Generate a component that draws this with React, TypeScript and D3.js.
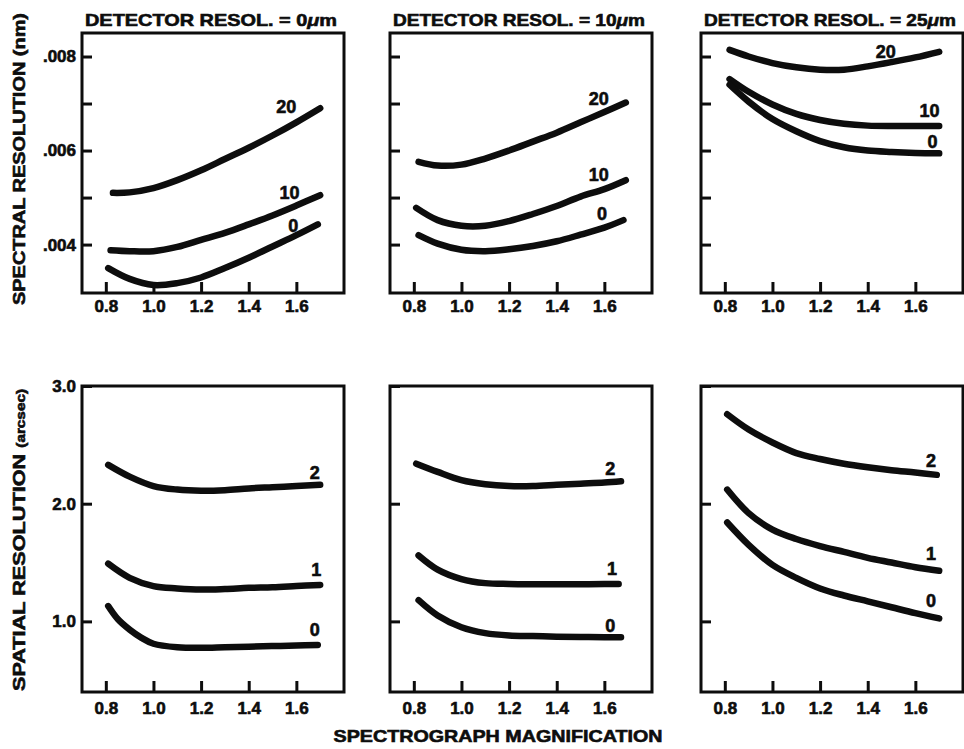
import React, { useEffect, useRef } from 'react';
import * as d3 from 'd3';

type Pt = [number, number];

const detectorResol = ['0', '10', '25'];
const magTicks = [0.8, 1.0, 1.2, 1.4, 1.6];
const spectralTicks = [0.004, 0.005, 0.006, 0.007, 0.008];
const spectralLabelled = [0.004, 0.006, 0.008];
const spatialTicks = [1.0, 2.0, 3.0];
const spectralCurveNames = ['20', '10', '0'];
const spatialCurveNames = ['2', '1', '0'];

// spectral resolution (nm) vs magnification, detector resol. = 0um
const spec0_20: Pt[] = [[0.83, 0.0051], [0.9, 0.00511], [1.0, 0.0052], [1.1, 0.00537], [1.2, 0.00558], [1.3, 0.00582], [1.4, 0.00606], [1.5, 0.00632], [1.6, 0.0066], [1.7, 0.0069]];
const spec0_10: Pt[] = [[0.82, 0.00388], [0.9, 0.00386], [1.0, 0.00386], [1.1, 0.00395], [1.2, 0.0041], [1.3, 0.00425], [1.4, 0.00443], [1.5, 0.00462], [1.6, 0.00483], [1.7, 0.00505]];
const spec0_0: Pt[] = [[0.81, 0.0035], [0.9, 0.00327], [1.0, 0.00314], [1.1, 0.00318], [1.2, 0.0033], [1.3, 0.0035], [1.4, 0.00372], [1.5, 0.00396], [1.6, 0.0042], [1.69, 0.00443]];
const spec0Labels: Pt[] = [[1.558, 0.00693], [1.571, 0.0051], [1.587, 0.00441]];

// detector resol. = 10um
const spec10_20: Pt[] = [[0.82, 0.00576], [0.9, 0.00568], [1.0, 0.0057], [1.1, 0.00583], [1.2, 0.006], [1.3, 0.00619], [1.4, 0.00638], [1.5, 0.0066], [1.6, 0.00682], [1.69, 0.00702]];
const spec10_10: Pt[] = [[0.81, 0.00478], [0.9, 0.00452], [1.0, 0.0044], [1.1, 0.0044], [1.2, 0.0045], [1.3, 0.00465], [1.4, 0.00482], [1.5, 0.00502], [1.6, 0.00518], [1.69, 0.00537]];
const spec10_0: Pt[] = [[0.82, 0.0042], [0.9, 0.00402], [1.0, 0.00389], [1.1, 0.00386], [1.2, 0.0039], [1.3, 0.00397], [1.4, 0.00407], [1.5, 0.00421], [1.6, 0.00436], [1.68, 0.00452]];
const spec10Labels: Pt[] = [[1.577, 0.00711], [1.577, 0.00548], [1.59, 0.00466]];

// detector resol. = 25um
const spec25_20: Pt[] = [[0.82, 0.00814], [0.9, 0.008], [1.0, 0.00786], [1.1, 0.00777], [1.2, 0.00772], [1.3, 0.00772], [1.4, 0.00779], [1.5, 0.00788], [1.6, 0.00798], [1.7, 0.0081]];
const spec25_10: Pt[] = [[0.82, 0.00752], [0.9, 0.00725], [1.0, 0.00698], [1.1, 0.00678], [1.2, 0.00665], [1.3, 0.00657], [1.4, 0.00653], [1.5, 0.00652], [1.6, 0.00652], [1.7, 0.00652]];
const spec25_0: Pt[] = [[0.82, 0.0074], [0.9, 0.00704], [1.0, 0.00667], [1.1, 0.00641], [1.2, 0.0062], [1.3, 0.00607], [1.4, 0.006], [1.5, 0.00597], [1.6, 0.00595], [1.7, 0.00594]];
const spec25Labels: Pt[] = [[1.476, 0.0081], [1.659, 0.00686], [1.672, 0.00619]];

// spatial resolution (arcsec), detector resol. = 0um
const spat0_2: Pt[] = [[0.81, 2.33], [0.9, 2.23], [1.0, 2.15], [1.1, 2.12], [1.2, 2.11], [1.3, 2.115], [1.4, 2.13], [1.5, 2.14], [1.6, 2.15], [1.7, 2.16]];
const spat0_1: Pt[] = [[0.81, 1.49], [0.9, 1.37], [1.0, 1.3], [1.1, 1.28], [1.2, 1.27], [1.3, 1.275], [1.4, 1.285], [1.5, 1.29], [1.6, 1.3], [1.7, 1.31]];
const spat0_0: Pt[] = [[0.81, 1.13], [0.85, 1.02], [0.9, 0.93], [0.95, 0.86], [1.0, 0.81], [1.1, 0.78], [1.2, 0.775], [1.3, 0.78], [1.4, 0.785], [1.5, 0.79], [1.6, 0.795], [1.69, 0.8]];
const spat0Labels: Pt[] = [[1.677, 2.263], [1.684, 1.437], [1.677, 0.927]];

// detector resol. = 10um
const spat10_2: Pt[] = [[0.81, 2.34], [0.9, 2.27], [1.0, 2.2], [1.1, 2.165], [1.2, 2.15], [1.3, 2.15], [1.4, 2.16], [1.5, 2.17], [1.6, 2.18], [1.67, 2.19]];
const spat10_1: Pt[] = [[0.82, 1.56], [0.9, 1.44], [1.0, 1.36], [1.1, 1.325], [1.2, 1.318], [1.3, 1.316], [1.4, 1.316], [1.5, 1.316], [1.6, 1.317], [1.66, 1.318]];
const spat10_0: Pt[] = [[0.82, 1.18], [0.9, 1.05], [1.0, 0.95], [1.1, 0.9], [1.2, 0.88], [1.3, 0.875], [1.4, 0.87], [1.5, 0.868], [1.6, 0.866], [1.67, 0.865]];
const spat10Labels: Pt[] = [[1.625, 2.3], [1.632, 1.451], [1.625, 0.969]];

// detector resol. = 25um
const spat25_2: Pt[] = [[0.81, 2.76], [0.9, 2.63], [1.0, 2.52], [1.1, 2.43], [1.2, 2.38], [1.3, 2.34], [1.4, 2.31], [1.5, 2.285], [1.6, 2.265], [1.69, 2.245]];
const spat25_1: Pt[] = [[0.81, 2.12], [0.9, 1.92], [1.0, 1.78], [1.1, 1.7], [1.2, 1.64], [1.3, 1.59], [1.4, 1.54], [1.5, 1.5], [1.6, 1.46], [1.7, 1.43]];
const spat25_0: Pt[] = [[0.81, 1.84], [0.9, 1.65], [1.0, 1.48], [1.1, 1.37], [1.2, 1.28], [1.3, 1.22], [1.4, 1.17], [1.5, 1.12], [1.6, 1.07], [1.7, 1.025]];
const spat25Labels: Pt[] = [[1.666, 2.371], [1.666, 1.579], [1.666, 1.176]];

const specCurves = [[spec0_20, spec0_10, spec0_0], [spec10_20, spec10_10, spec10_0], [spec25_20, spec25_10, spec25_0]];
const specLabels = [spec0Labels, spec10Labels, spec25Labels];
const spatCurves = [[spat0_2, spat0_1, spat0_0], [spat10_2, spat10_1, spat10_0], [spat25_2, spat25_1, spat25_0]];
const spatLabels = [spat0Labels, spat10Labels, spat25Labels];

const FONT = '"Liberation Sans", Arial, Helvetica, sans-serif';
const INK = '#0d0d0d';

export default function App() {
  const svgRef = useRef<SVGSVGElement>(null);

  useEffect(() => {
    if (!svgRef.current) return;
    const svg = d3.select(svgRef.current);
    svg.selectAll('*').remove();

    const colLeft = [82, 390, 701];
    const panelW = 262;
    const rows = [
      { top: 33, bottom: 293, domain: [0.00297, 0.0085], pad: 7 },
      { top: 386, bottom: 692, domain: [0.4, 3.0], pad: 10 },
    ];

    // heavy scanned lettering: bold + thin outline
    const heavy = (t: any) =>
      t.attr('fill', INK)
        .attr('stroke', INK)
        .attr('stroke-width', 0.6)
        .attr('font-family', FONT)
        .attr('font-weight', 'bold');

    const styleAxis = (g: any) => {
      g.select('.domain').remove();
      g.selectAll('line').attr('stroke', INK).attr('stroke-width', 3);
      g.selectAll('text').call(heavy).attr('font-size', '17px');
    };

    const line = d3.line<Pt>().curve(d3.curveCatmullRom.alpha(0.5));

    rows.forEach((row, r) => {
      const y = d3.scaleLinear().domain(row.domain).range([row.bottom, row.top]);
      colLeft.forEach((left, c) => {
        const x = d3.scaleLinear().domain([0.7, 1.8]).range([left, left + panelW]);
        const g = svg.append('g');

        g.append('g')
          .attr('transform', `translate(0,${row.bottom})`)
          .call(
            d3.axisBottom(x)
              .tickValues(magTicks)
              .tickSizeInner(-11)
              .tickSizeOuter(0)
              .tickPadding(row.pad)
              .tickFormat(d3.format('.1f') as any)
          )
          .call(styleAxis);

        const yAxis = d3.axisLeft(y).tickSizeInner(-10).tickSizeOuter(0).tickPadding(6);
        if (r === 0) {
          yAxis.tickValues(spectralTicks).tickFormat((d: any) =>
            c === 0 && spectralLabelled.some(v => Math.abs(v - d) < 1e-9) ? d3.format('.3f')(d).replace(/^0/, '') : ''
          );
        } else {
          yAxis.tickValues(spatialTicks).tickFormat((d: any) => (c === 0 ? d3.format('.1f')(d) : ''));
        }
        g.append('g').attr('transform', `translate(${left},0)`).call(yAxis).call(styleAxis);

        g.append('rect')
          .attr('x', left)
          .attr('y', row.top)
          .attr('width', panelW)
          .attr('height', row.bottom - row.top)
          .attr('fill', 'none')
          .attr('stroke', INK)
          .attr('stroke-width', 3);

        const curves = r === 0 ? specCurves[c] : spatCurves[c];
        const labels = r === 0 ? specLabels[c] : spatLabels[c];
        const names = r === 0 ? spectralCurveNames : spatialCurveNames;

        g.selectAll('path.curve')
          .data(curves)
          .enter()
          .append('path')
          .attr('class', 'curve')
          .attr('d', (d: Pt[]) => line(d.map(p => [x(p[0]), y(p[1])] as Pt)))
          .attr('fill', 'none')
          .attr('stroke', INK)
          .attr('stroke-width', 6.5)
          .attr('stroke-linecap', 'round');

        g.selectAll('text.curve-label')
          .data(labels)
          .enter()
          .append('text')
          .attr('class', 'curve-label')
          .attr('x', (d: Pt) => x(d[0]))
          .attr('y', (d: Pt) => y(d[1]))
          .attr('dy', '0.36em')
          .attr('text-anchor', 'middle')
          .call(heavy)
          .attr('font-size', '18px')
          .text((_: any, i: number) => names[i]);

        if (r === 0) {
          const t = svg.append('text')
            .attr('x', left + panelW / 2 - 2)
            .attr('y', 26)
            .attr('text-anchor', 'middle')
            .call(heavy)
            .attr('font-size', '17px')
            .attr('textLength', 252)
            .attr('lengthAdjust', 'spacingAndGlyphs');
          t.append('tspan').text(`DETECTOR RESOL. = ${detectorResol[c]}`);
          t.append('tspan').attr('font-style', 'italic').text('μ');
          t.append('tspan').text('m');
        }
      });
    });

    svg.append('text')
      .attr('transform', 'translate(25,159) rotate(-90)')
      .attr('text-anchor', 'middle')
      .call(heavy)
      .attr('font-size', '16px')
      .attr('textLength', 292)
      .attr('lengthAdjust', 'spacingAndGlyphs')
      .text('SPECTRAL RESOLUTION (nm)');

    const sp = svg.append('text')
      .attr('transform', 'translate(25,540) rotate(-90)')
      .attr('text-anchor', 'middle')
      .call(heavy)
      .attr('font-size', '17px')
      .attr('textLength', 302)
      .attr('lengthAdjust', 'spacingAndGlyphs');
    sp.append('tspan').text('SPATIAL RESOLUTION ');
    sp.append('tspan').attr('font-size', '12px').text('(arcsec)');

    svg.append('text')
      .attr('x', 498)
      .attr('y', 742)
      .attr('text-anchor', 'middle')
      .call(heavy)
      .attr('font-size', '17px')
      .attr('textLength', 329)
      .attr('lengthAdjust', 'spacingAndGlyphs')
      .text('SPECTROGRAPH MAGNIFICATION');
  }, []);

  return (
    <svg
      ref={svgRef}
      width={964}
      height={749}
      style={{ position: 'absolute', left: 0, top: 0, background: '#fff', display: 'block' }}
    />
  );
}
